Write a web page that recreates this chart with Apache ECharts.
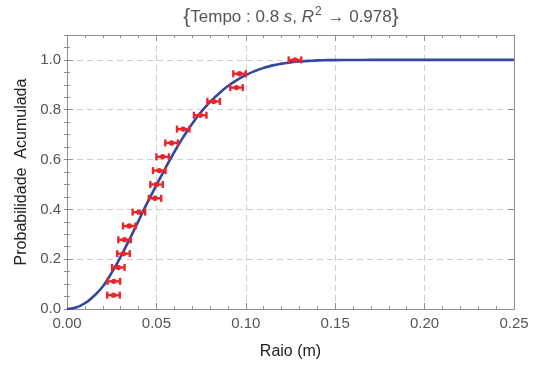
<!DOCTYPE html>
<html>
<head>
<meta charset="utf-8">
<script src="https://cdn.jsdelivr.net/npm/echarts@6/dist/echarts.min.js"></script>
<style>html,body{margin:0;padding:0;background:#fff}#c{width:533px;height:370px}</style>
</head>
<body>
<div id="c"></div>
<script>
// Measured points (radius, cumulative probability) and horizontal error half-width
var pointX = [0.026, 0.0262, 0.0287, 0.0316, 0.0322, 0.0348, 0.0402, 0.0492, 0.0501, 0.0516, 0.0535, 0.0585, 0.065, 0.0745, 0.082, 0.0948, 0.0965, 0.1275];
var pointY = [0.0556, 0.1111, 0.1667, 0.2222, 0.2778, 0.3333, 0.3889, 0.4444, 0.5, 0.5556, 0.6111, 0.6667, 0.7222, 0.7778, 0.8333, 0.8889, 0.9444, 1.0];
var pointErr = [0.0035, 0.0035, 0.0035, 0.0035, 0.0035, 0.0035, 0.0035, 0.0035, 0.0035, 0.0035, 0.0035, 0.0035, 0.0035, 0.0035, 0.0035, 0.0035, 0.0035, 0.0035];
// Fitted curve
var curveX = [0, 0.005, 0.01, 0.015, 0.02, 0.025, 0.03, 0.035, 0.04, 0.045, 0.05, 0.055, 0.06, 0.065, 0.07, 0.075, 0.08, 0.085, 0.09, 0.095, 0.10, 0.105, 0.11, 0.115, 0.12, 0.125, 0.13, 0.135, 0.14, 0.145, 0.15, 0.16, 0.17, 0.18, 0.20, 0.22, 0.25];
var curveY = [0, 0.006, 0.023, 0.052, 0.090, 0.146, 0.21, 0.28, 0.354, 0.428, 0.497, 0.565, 0.63, 0.69, 0.744, 0.791, 0.831, 0.865, 0.895, 0.919, 0.939, 0.955, 0.968, 0.978, 0.985, 0.990, 0.994, 0.996, 0.998, 0.999, 0.9993, 0.9997, 1.0, 1.0, 1.0, 1.0, 1.0];
var xTicks = [0, 0.05, 0.10, 0.15, 0.20, 0.25];
var yTicks = [0, 0.2, 0.4, 0.6, 0.8, 1.0];
var titleParts = ['Tempo : 0.8 ', 's', ', ', 'R', '2', ' \u2192 0.978'];
var xName = 'Raio (m)';
var yName = 'Probabilidade  Acumulada';

var FONT = '"Liberation Sans", Arial, sans-serif';
var frameColor = '#8f8f8f';
var labelColor = '#555';

var curveData = curveX.map(function (x, i) { return [x, curveY[i]]; });
var pointData = pointX.map(function (x, i) { return [x, pointY[i], pointErr[i]]; });

function majorAxis(pos, isX, showLabel) {
  var ticks = isX ? xTicks : yTicks;
  return {
    type: 'value',
    position: pos,
    min: 0,
    max: isX ? 0.25 : 1.1,
    interval: isX ? 0.05 : 0.2,
    axisLine: { show: true, onZero: false, lineStyle: { color: frameColor, width: 1 } },
    axisTick: { show: true, inside: true, length: 6, lineStyle: { color: frameColor } },
    minorTick: { show: isX, splitNumber: 5, length: 3, lineStyle: { color: frameColor } },
    splitLine: { show: showLabel, showMinLine: false, showMaxLine: false, lineStyle: { color: '#cfcfcf', type: [6, 4], width: 1 } },
    axisLabel: {
      show: showLabel,
      color: labelColor,
      fontSize: 15,
      fontFamily: FONT,
      margin: isX ? 7 : 6,
      showMaxLabel: isX,
      formatter: function (v) {
        var best = null;
        ticks.forEach(function (t) { if (Math.abs(t - v) < 1e-9) best = t; });
        if (best === null) return '';
        return isX ? best.toFixed(2) : best.toFixed(1);
      }
    }
  };
}
function minorYAxis(pos) {
  return {
    type: 'value', position: pos, min: 0, max: 1.1, interval: 0.05,
    axisLine: { show: false },
    axisTick: { show: true, inside: true, length: 3, lineStyle: { color: frameColor } },
    splitLine: { show: false },
    axisLabel: { show: false }
  };
}

var xMain = majorAxis('bottom', true, true);
xMain.name = xName;
xMain.nameLocation = 'middle';
xMain.nameGap = 35;
xMain.nameTextStyle = { color: '#222', fontSize: 16, fontFamily: FONT };
var yMain = majorAxis('left', false, true);
yMain.name = yName;
yMain.nameLocation = 'middle';
yMain.nameGap = 33;
yMain.nameTextStyle = { color: '#222', fontSize: 16, fontFamily: FONT };

var chart = echarts.init(document.getElementById('c'), null, { renderer: 'canvas' });
chart.setOption({
  animation: false,
  backgroundColor: '#fff',
  grid: { left: 67, right: 19, top: 35, bottom: 61, containLabel: false },
  xAxis: [xMain, majorAxis('top', true, false)],
  yAxis: [yMain, majorAxis('right', false, false), minorYAxis('left'), minorYAxis('right')],
  graphic: [{
    type: 'text',
    x: 291,
    y: 17,
    style: {
      text: '{b|{}{n|' + titleParts[0] + '}{i|' + titleParts[1] + '}{n|' + titleParts[2] + '}{i|' + titleParts[3] + '}{sup|' + titleParts[4] + '}{n|' + titleParts[5] + '}}',
      align: 'center',
      verticalAlign: 'middle',
      fill: '#555',
      fontSize: 21,
      fontFamily: FONT,
      rich: {
        b: { fontSize: 21, fill: '#555', color: '#555', fontFamily: FONT },
        n: { fontSize: 17, fill: '#555', color: '#555', fontFamily: FONT },
        i: { fontSize: 17, fontStyle: 'italic', fill: '#555', color: '#555', fontFamily: FONT },
        sup: { fontSize: 12, fill: '#555', color: '#555', fontFamily: FONT, verticalAlign: 'top', padding: [0, 1, 10, 1] }
      }
    }
  }],
  series: [
    {
      type: 'line',
      xAxisIndex: 0,
      yAxisIndex: 0,
      data: curveData,
      smooth: 0.5,
      showSymbol: false,
      lineStyle: { color: '#3447a0', width: 2.6 },
      z: 3
    },
    {
      type: 'custom',
      xAxisIndex: 0,
      yAxisIndex: 0,
      data: pointData,
      z: 5,
      encode: { x: 0, y: 1 },
      renderItem: function (params, api) {
        var x = api.value(0), y = api.value(1), e = api.value(2);
        var c = api.coord([x, y]);
        var l = api.coord([x - e, y]);
        var r = api.coord([x + e, y]);
        var h = 3.5;
        var st = { stroke: '#e8262b', lineWidth: 2.4 };
        return {
          type: 'group',
          children: [
            { type: 'line', shape: { x1: l[0], y1: c[1], x2: r[0], y2: c[1] }, style: st },
            { type: 'line', shape: { x1: l[0], y1: c[1] - h, x2: l[0], y2: c[1] + h }, style: st },
            { type: 'line', shape: { x1: r[0], y1: c[1] - h, x2: r[0], y2: c[1] + h }, style: st },
            { type: 'circle', shape: { cx: c[0], cy: c[1], r: 2.7 }, style: { fill: '#e8262b' } }
          ]
        };
      }
    }
  ]
});
</script>
</body>
</html>
